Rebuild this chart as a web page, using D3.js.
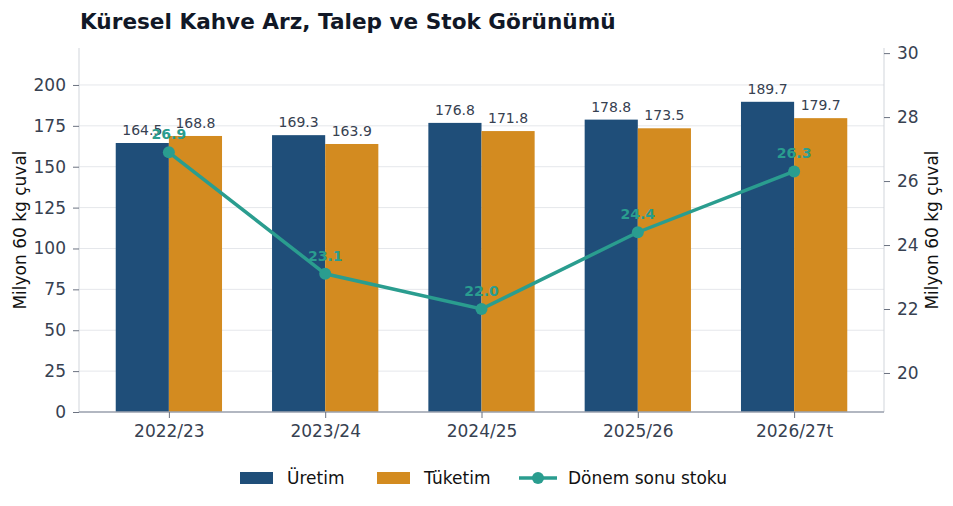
<!DOCTYPE html>
<html>
<head>
<meta charset="utf-8">
<script src="https://cdn.jsdelivr.net/npm/d3@7"></script>
<style>
  body { margin: 0; background: #fff; }
  svg text { font-family: "DejaVu Sans", sans-serif; }
</style>
</head>
<body>
<script>
// chart data
var seasons = ['2022/23', '2023/24', '2024/25', '2025/26', '2026/27t'];
var uretim = [164.5, 169.3, 176.8, 178.8, 189.7];
var tuketim = [168.8, 163.9, 171.8, 173.5, 179.7];
var stok = [26.9, 23.1, 22.0, 24.4, 26.3];
var leftTicks = [0, 25, 50, 75, 100, 125, 150, 175, 200];
var rightTicks = [20, 22, 24, 26, 28, 30];

var W = 953, H = 506;
var plot = { left: 79, right: 884, top: 48, bottom: 412 };
var barW = 0.34;
var colU = '#1f4e79', colT = '#d38b20', colS = '#2a9d8f';
var tickCol = '#374151';

var svg = d3.select('body').append('svg')
    .attr('width', W).attr('height', H);

var x = d3.scaleLinear().domain([-0.575, 4.575]).range([plot.left, plot.right]);
var y = d3.scaleLinear().domain([0, 222.6]).range([plot.bottom, plot.top]);
var y2 = d3.scaleLinear().domain([18.78, 30.16]).range([plot.bottom, plot.top]);
var bw = x(barW) - x(0);

// grid
svg.append('g').selectAll('line')
   .data(leftTicks)
   .enter()
   .append('line')
   .attr('x1', plot.left).attr('x2', plot.right)
   .attr('y1', function(d) { return y(d); })
   .attr('y2', function(d) { return y(d); })
   .attr('stroke', '#e5e7eb').attr('stroke-width', 1);

// bars
svg.append('g').selectAll('rect')
   .data(uretim)
   .enter()
   .append('rect')
   .attr('x', function(d, i) { return x(i) - bw; })
   .attr('y', function(d) { return y(d); })
   .attr('width', bw)
   .attr('height', function(d) { return y(0) - y(d); })
   .attr('fill', colU);

svg.append('g').selectAll('rect')
   .data(tuketim)
   .enter()
   .append('rect')
   .attr('x', function(d, i) { return x(i); })
   .attr('y', function(d) { return y(d); })
   .attr('width', bw)
   .attr('height', function(d) { return y(0) - y(d); })
   .attr('fill', colT);

// bar value labels
function barLabels(data, off) {
  svg.append('g').selectAll('text')
     .data(data)
     .enter()
     .append('text')
     .attr('x', function(d, i) { return x(i + off) ; })
     .attr('y', function(d) { return y(d) - 8; })
     .attr('text-anchor', 'middle')
     .attr('font-size', 14)
     .attr('fill', tickCol)
     .text(function(d) { return d.toFixed(1); });
}
barLabels(uretim, -barW / 2);
barLabels(tuketim, barW / 2);

// spines
var ax = svg.append('g');
ax.append('line').attr('x1', plot.left).attr('x2', plot.left)
  .attr('y1', plot.top).attr('y2', plot.bottom).attr('stroke', '#d1d5db');
ax.append('line').attr('x1', plot.right).attr('x2', plot.right)
  .attr('y1', plot.top).attr('y2', plot.bottom).attr('stroke', '#d1d5db');

// axes
var gl = svg.append('g').attr('transform', 'translate(' + plot.left + ',0)')
  .call(d3.axisLeft(y).tickValues(leftTicks).tickSize(6).tickPadding(7));
var gr = svg.append('g').attr('transform', 'translate(' + plot.right + ',0)')
  .call(d3.axisRight(y2).tickValues(rightTicks).tickSize(6).tickPadding(7));
var gb = svg.append('g').attr('transform', 'translate(0,' + plot.bottom + ')')
  .call(d3.axisBottom(x).tickValues(d3.range(seasons.length))
        .tickFormat(function(i) { return seasons[i]; }).tickSize(6).tickPadding(7));
[gl, gr, gb].forEach(function(g) {
  g.select('.domain').remove();
  g.selectAll('.tick line').attr('stroke', '#6b7280');
  g.selectAll('.tick text').attr('font-size', 17).attr('fill', tickCol)
   .attr('font-family', '"DejaVu Sans", sans-serif');
});
ax.append('line').attr('x1', plot.left).attr('x2', plot.right)
  .attr('y1', plot.bottom).attr('y2', plot.bottom)
  .attr('stroke', '#9ca3af').attr('stroke-width', 1.5);

// stock line
var line = d3.line()
  .x(function(d, i) { return x(i); })
  .y(function(d) { return y2(d); });
svg.append('path')
   .datum(stok)
   .attr('d', line)
   .attr('fill', 'none')
   .attr('stroke', colS)
   .attr('stroke-width', 3.5);
svg.append('g').selectAll('circle')
   .data(stok)
   .enter()
   .append('circle')
   .attr('cx', function(d, i) { return x(i); })
   .attr('cy', function(d) { return y2(d); })
   .attr('r', 6)
   .attr('fill', colS);
svg.append('g').selectAll('text')
   .data(stok)
   .enter()
   .append('text')
   .attr('x', function(d, i) { return x(i); })
   .attr('y', function(d) { return y2(d) - 13; })
   .attr('text-anchor', 'middle')
   .attr('font-size', 14)
   .attr('font-weight', 'bold')
   .attr('fill', colS)
   .text(function(d) { return d.toFixed(1); });

// titles
svg.append('text')
   .attr('x', 80).attr('y', 29)
   .attr('font-size', 21.6).attr('font-weight', 'bold')
   .attr('fill', '#111827')
   .text('Küresel Kahve Arz, Talep ve Stok Görünümü');
svg.append('text')
   .attr('transform', 'translate(26,' + ((plot.top + plot.bottom) / 2) + ') rotate(-90)')
   .attr('text-anchor', 'middle').attr('font-size', 17).attr('fill', '#111')
   .text('Milyon 60 kg çuval');
svg.append('text')
   .attr('transform', 'translate(938,' + ((plot.top + plot.bottom) / 2) + ') rotate(-90)')
   .attr('text-anchor', 'middle').attr('font-size', 17).attr('fill', '#111')
   .text('Milyon 60 kg çuval');

// legend
var leg = svg.append('g').attr('font-size', 17);
leg.append('rect').attr('x', 240).attr('y', 472).attr('width', 33).attr('height', 12).attr('fill', colU);
leg.append('text').attr('x', 287).attr('y', 484).attr('fill', '#111').text('Üretim');
leg.append('rect').attr('x', 377).attr('y', 472).attr('width', 33).attr('height', 12).attr('fill', colT);
leg.append('text').attr('x', 424).attr('y', 484).attr('fill', '#111').text('Tüketim');
leg.append('line').attr('x1', 519).attr('x2', 557).attr('y1', 478).attr('y2', 478)
   .attr('stroke', colS).attr('stroke-width', 3.5);
leg.append('circle').attr('cx', 538).attr('cy', 478).attr('r', 6).attr('fill', colS);
leg.append('text').attr('x', 568).attr('y', 484).attr('fill', '#111').text('Dönem sonu stoku');
</script>
</body>
</html>
